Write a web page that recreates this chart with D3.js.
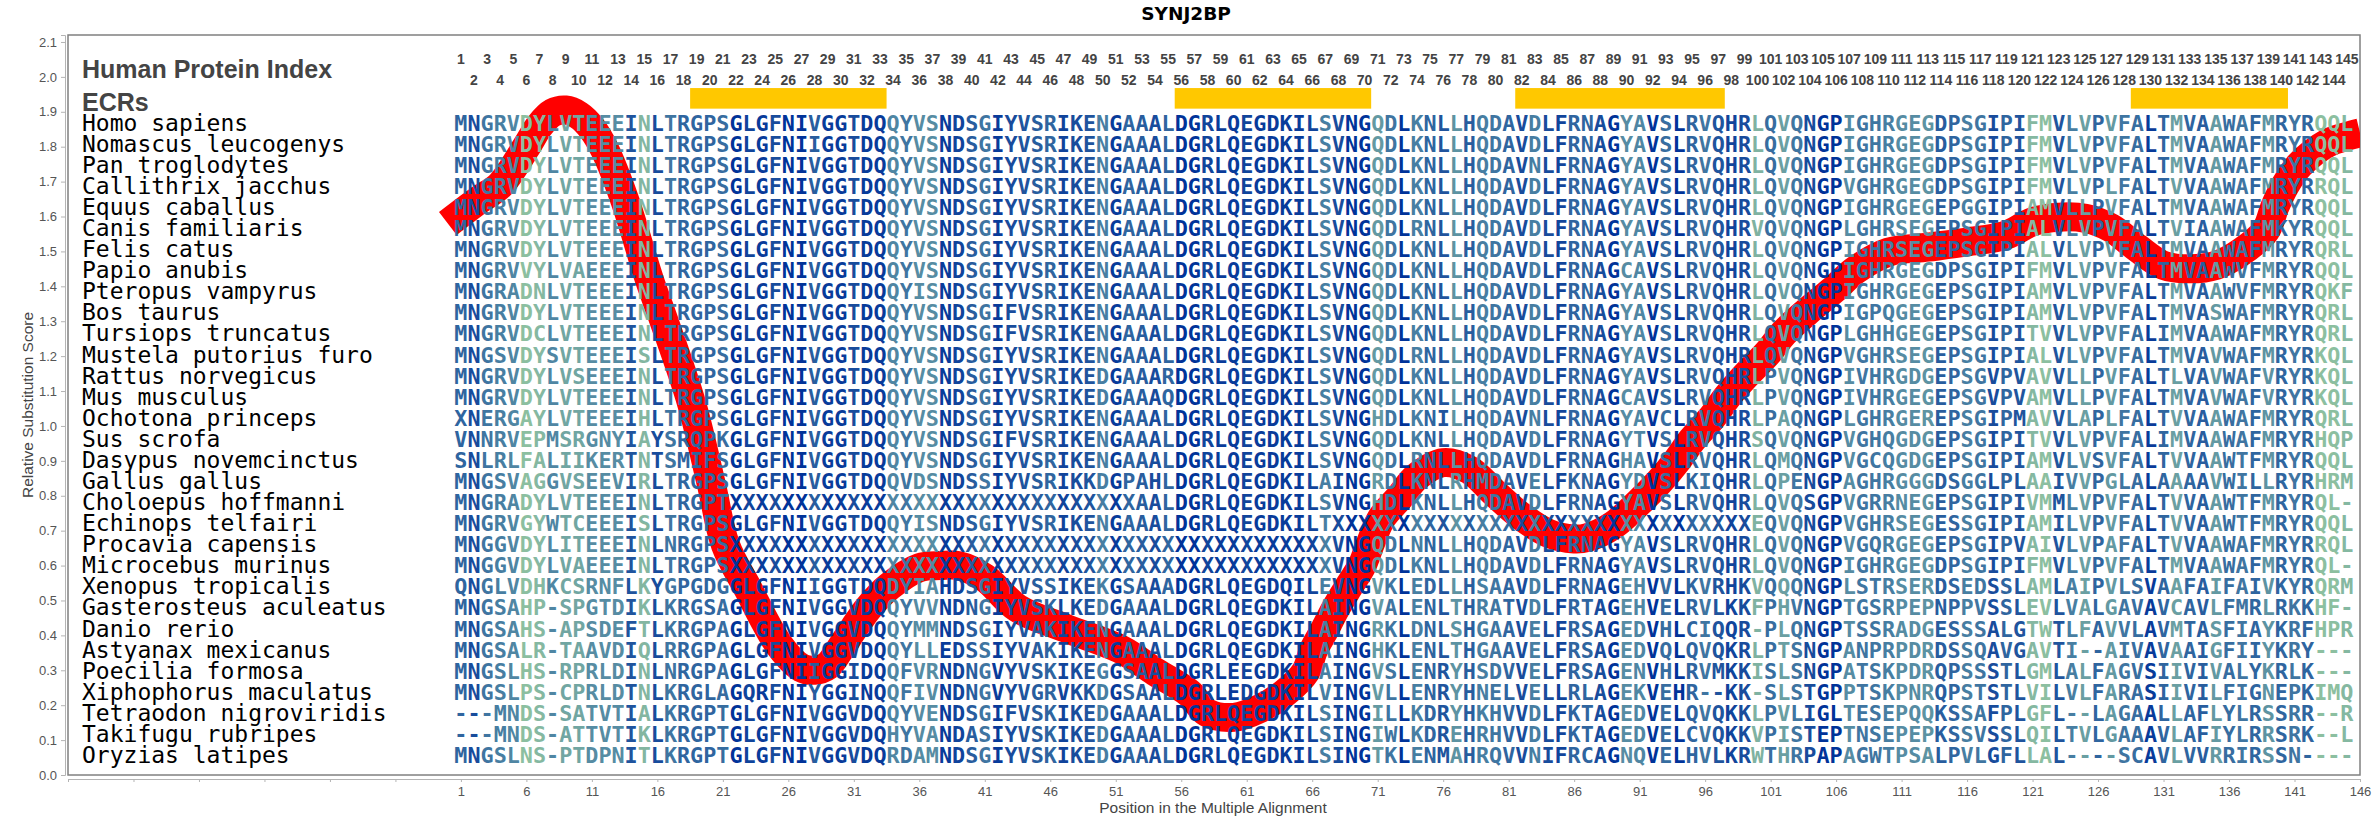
<!DOCTYPE html>
<html>
<head>
<meta charset="utf-8">
<script src="https://cdn.jsdelivr.net/npm/d3@7"></script>
<style>
body { margin: 0; background: #fff; }
text { white-space: pre; }
</style>
</head>
<body>
<div id="chart"></div>
<script>
"use strict";

var species = ["Homo sapiens","Nomascus leucogenys","Pan troglodytes","Callithrix jacchus","Equus caballus","Canis familiaris","Felis catus","Papio anubis","Pteropus vampyrus","Bos taurus","Tursiops truncatus","Mustela putorius furo","Rattus norvegicus","Mus musculus","Ochotona princeps","Sus scrofa","Dasypus novemcinctus","Gallus gallus","Choloepus hoffmanni","Echinops telfairi","Procavia capensis","Microcebus murinus","Xenopus tropicalis","Gasterosteus aculeatus","Danio rerio","Astyanax mexicanus","Poecilia formosa","Xiphophorus maculatus","Tetraodon nigroviridis","Takifugu rubripes","Oryzias latipes"];

// alignment positions 1-27
var seqHead = [
  "MNGRVDYLVTEEEINLTRGPSGLGFNI","MNGRVDYLVTEEEINLTRGPSGLGFNI","MNGRVDYLVTEEEINLTRGPSGLGFNI","MNGRVDYLVTEEEINLTRGPSGLGFNI",
  "MNGRVDYLVTEEEINLTRGPSGLGFNI","MNGRVDYLVTEEEINLTRGPSGLGFNI","MNGRVDYLVTEEEINLTRGPSGLGFNI","MNGRVVYLVAEEEINLTRGPSGLGFNI",
  "MNGRADNLVTEEEINLTRGPSGLGFNI","MNGRVDYLVTEEEINLTRGPSGLGFNI","MNGRVDCLVTEEEINLTRGPSGLGFNI","MNGSVDYSVTEEEISLTRGPSGLGFNI",
  "MNGRVDYLVSEEEINLTRGPSGLGFNI","MNGRVDYLVTEEEINLTRGPSGLGFNI","XNERGAYLVTEEEIHLTRGPSGLGFNI","VNNRVEPMSRGNYIAYSRQPKGLGFNI",
  "SNLRLFALIIKERTNTSMIFSGLGFNI","MNGSVAGGVSEEVIRLTRGPSGLGFNI","MNGRADYLVTEEEINLTRGPTXXXXXX","MNGRVGYWTCEEEISLTRGPSGLGFNI",
  "MNGGVDYLITEEEINLNRGPSXXXXXX","MNGGVDYLVAEEEINLTRGPSXXXXXX","QNGLVDHKCSRNFLKYGPGDGGLGFNI","MNGSAHP-SPGTDIKLKRGSAGLGFNI",
  "MNGSAHS-APSDEFTLKRGPAGLGFNI","MNGSALR-TAAVDIQLRRGPAGLGFNI","MNGSLHS-RPRLDINLNRGPAGLGFNI","MNGSLPS-CPRLDTNLKRGLAGQRFNI",
  "---MNDS-SATVTIALKRGPTGLGFNI","---MNDS-ATTVTIKLKRGPTGLGFNI","MNGSLNS-PTDPNITLKRGPTGLGFNI"
];

// alignment positions 28-86
var seqMiddle = [
  "VGGTDQQYVSNDSGIYVSRIKENGAAALDGRLQEGDKILSVNGQDLKNLLHQDAVDLFR",
  "IGGTDQQYVSNDSGIYVSRIKENGAAALDGRLQEGDKILSVNGQDLKNLLHQDAVDLFR",
  "VGGTDQQYVSNDSGIYVSRIKENGAAALDGRLQEGDKILSVNGQDLKNLLHQDAVNLFR",
  "VGGTDQQYVSNDSGIYVSRIKENGAAALDGRLQEGDKILSVNGQDLKNLLHQDAVDLFR",
  "VGGTDQQYVSNDSGIYVSRIKENGAAALDGRLQEGDKILSVNGQDLKNLLHQDAVDLFR",
  "VGGTDQQYVSNDSGIYVSRIKENGAAALDGRLQEGDKILSVNGQDLRNLLHQDAVDLFR",
  "VGGTDQQYVSNDSGIYVSRIKENGAAALDGRLQEGDKILSVNGQDLKNLLHQDAVDLFR",
  "VGGTDQQYVSNDSGIYVSRIKENGAAALDGRLQEGDKILSVNGQDLKNLLHQDAVDLFR",
  "VGGTDQQYISNDSGIYVSRIKENGAAALDGRLQEGDKILSVNGQDLKNLLHQDAVDLFR",
  "VGGTDQQYVSNDSGIFVSRIKENGAAALDGRLQEGDKILSVNGQDLKNLLHQDAVDLFR",
  "VGGTDQQYVSNDSGIFVSRIKENGAAALDGRLQEGDKILSVNGQDLKNLLHQDAVDLFR",
  "VGGTDQQYVSNDSGIYVSRIKENGAAALDGRLQEGDKILSVNGQDLRNLLHQDAVDLFR",
  "VGGTDQQYVSNDSGIYVSRIKEDGAAARDGRLQEGDKILSVNGQDLKNLLHQDAVDLFR",
  "VGGTDQQYVSNDSGIYVSRIKEDGAAAQDGRLQEGDKILSVNGQDLKNLLHQDAVDLFR",
  "VGGTDQQYVSNDSGIYVSRIKENGAAALDGRLQEGDKILSVNGHDLKNILHQDAVNLFR",
  "VGGTDQQYVSNDSGIFVSRIKENGAAALDGRLQEGDKILSVNGQDLKNLLHQDAVDLFR",
  "VGGTDQQYVSNDSGIYVSRIKENGAAALDGRLQEGDKILSVNGQDLRNLLHQDAVDLFR",
  "VGGTDQQVDSNDSSIYVSRIKKDGPAHLDGRLQEGDKILAINGRDLKNLRHMDAVELFK",
  "XXXXXXXXXXXXXXXXXXXXXXXXXAALDGRLQEGDKILSVNGHDLKNLLHQDAVDLFR",
  "VGGTDQQYISNDSGIYVSRIKENGAAALDGRLQEGDKILTXXXXXXXXXXXXXXXXXXX",
  "XXXXXXXXXXXXXXXXXXXXXXXXXXXXXXXXXXXXXXXXVNGQDLNNLLHQDAVDLFR",
  "XXXXXXXXXXXXXXXXXXXXXXXXXXXXXXXXXXXXXXXXVNGQDLKNLLHQDAVDLFR",
  "IGGTDQDYIAHDSGIYVSSIKEKGSAAADGRLQEGDQILEVNGVKLEDLLHSAAVDLFR",
  "VGGVDQQYVVNDNGIYVSKLKEDGAAALDGRLQEGDKILAINGVALENLTHRATVDLFR",
  "VGGVDQQYMMNDSGIYVAKIKENGAAALDGRLQEGDKILAINGRKLDNLSHGAAVELFR",
  "VGGVDQQYLLEDSSIYVAKIKENGAAALDGRLQEGDKILAINGHKLENLTHGAAVELFR",
  "IGGIDQQFVRNDNGVYVSKIKEGGSAALDGRLEEGDKILAINGVSLENRYHSDVVELFR",
  "YGGINQQFIVNDNGVYVGRVKKDGSAALDGRLEDGDKILVINGVLLENRYHNELVELLR",
  "VGGVDQQYVENDSGIFVSKIKEDGAAALDGRLQEGDKILSINGILLKDRYHKHVVDLFK",
  "VGGVDQHYVANDASIYVSKIKEDGAAALDGRLQEGDKILSINGIWLKDREHRHVVDLFK",
  "VGGVDQRDAMNDSGIYVSKIKEDGAAALDGRLQEGDKILSINGTKLENMAHRQVVNIFR"
];

// alignment positions 87-145
var seqTail = [
  "NAGYAVSLRVQHRLQVQNGPIGHRGEGDPSGIPIFMVLVPVFALTMVAAWAFMRYRQQL",
  "NAGYAVSLRVQHRLQVQNGPIGHRGEGDPSGIPIFMVLVPVFALTMVAAWAFMRYRQQL",
  "NAGYAVSLRVQHRLQVQNGPIGHRGEGDPSGIPIFMVLVPVFALTMVAAWAFMRYRQQL",
  "NAGYAVSLRVQHRLQVQNGPVGHRGEGDPSGIPIFMVLVPLFALTVVAAWAFMRYRRQL",
  "NAGYAVSLRVQHRLQVQNGPIGHRGEGEPGGIPIAMVLLPVFALTMVAAWAFMRYRQQL",
  "NAGYAVSLRVQHRVQVQNGPLGHRSEGEPSGIPIALVLVPVFALTVIAAWAFMKYRQQL",
  "NAGYAVSLRVQHRLQVQNGPIGHRSEGEPSGIPIALVLVPVFALTMVAAWAFMRYRQRL",
  "NAGCAVSLRVQHRLQVQNGPIGHRGEGDPSGIPIFMVLVPVFALTMVAAWVFMRYRQQL",
  "NAGYAVSLRVQHRLQVQNGPIGHRGEGEPSGIPIAMVLVPVFALTMVAAWVFMRYRQKF",
  "NAGYAVSLRVQHRLQVQNGPIGPQGEGEPSGIPIAMVLVPVFALTMVASWAFMRYRQRL",
  "NAGYAVSLRVQHRLQVQNGPLGHHGEGEPSGIPITVVLVPVFALIMVAAWAFMRYRQRL",
  "NAGYAVSLRVQHRLQVQNGPVGHRSEGEPSGIPIALVLVPVFALTMVAVWAFMRYRKQL",
  "NAGYAVSLRVQHRLPVQNGPIVHRGDGEPSGVPVAVVLLPVFALTLVAVWAFVRYRKQL",
  "NAGCAVSLRVQHRLPVQNGPIVHRGEGEPSGVPVAMVLLPVFALTMVAVWAFVRYRKQL",
  "NAGYAVCLRVQHRLPAQNGPLGHRGEREPSGIPMAVVLAPLFALTVVAAWAFMRYRQRL",
  "NAGYTVSLRVQHRSQVQNGPVGHQGDGEPSGIPITVVLVPVFALIMVAAWAFMRYRHQP",
  "NAGHAVSLRVQHRLQMQNGPVGCQGDGEPSGIPIAMVLVSVFALTVVAAWTFMRYRQQL",
  "NAGYDVSLKIQHRLQPENGPAGHRGGGDSGGLPLAAIVVPGLALAAAAVWILLRYRHRM",
  "NAGYAVSLRVQHRLQVQSGPVGRRNEGEPSGIPIVMMLVPVFALTVVAAWTFMRYRQL-",
  "XXXXXXXXXXXXXEQVQNGPVGHRSEGESSGIPIAMILVPVFALTVVAAWTFMRYRQQL",
  "NAGYAVSLRVQHRLQVQNGPVGQRGEGEPSGIPVAIVLVPAFALTVVAAWAFMRYRRQL",
  "NAGYAVSLRVQHRLQVQNGPIGHRGEGDPSGIPIFMVLVPVFALTMVAAWAFMRYRQL-",
  "NAGEHVVLKVRHKVQQQNGPLSTRSERDSEDSSLAMLAIPVLSVAAFAIFAIVKYRQRM",
  "TAGEHVELRVLKKFPHVNGPTGSRPEPNPPVSSLEVLVALGAVAVCAVLFMRLRKKHF-",
  "SAGEDVHLCIQQR-PLQNGPTSSRADGESSSALGTWTLFAVVLAVMTASFIAYKRFHPR",
  "SAGEDVQLQVQKRLPTSNGPANPRPDRDSSQAVGAVTI--AIVAVAAIGFIIYKRY---",
  "SAGENVHLRVMKKISLSNGPATSKPDRQPSSSTLGMLALFAGVSIIVIVALYKRLK---",
  "LAGEKVEHR--KK-SLSTGPPTSKPNRQPSTSTLVILVLFARASIIVILFIGNEPKIMQ",
  "TAGEDVELQVQKKLPVLIGLTESEPQQKSSAFPLGFL--LAGAALLAFLYLRSSRR--R",
  "TAGEDVELCVQKKVPISTEPTNSEPEPKSSVSSLQILTVLGAAAVLAFIYLRRSRK--L",
  "CAGNQVELHVLKRWTHRPAPAGWTPSALPVLGFLLAL----SCAVLVVRRIRSSN----"
];

// conservation of each alignment column, 0 = pale green, 1 = dark blue
var columnConservation = [
  .7,.85,.6,.55,.5,.05,.1,.5,.25,.25,.45,.45,.45,.8,.12,.85,.6,.7,.7,.7,.65,1,.9,.95,.85,1,1,.75,.95,.95,
  .85,.95,.95,.5,.6,.45,.45,.95,.9,.75,.6,.95,.85,.8,.75,.7,.9,.85,.8,.55,.95,.7,.75,.85,.7,1,1,.9,.95,.95,
  .9,.95,.95,.95,.95,.9,.55,.85,1,1,.35,.6,1,.55,.7,.8,.4,.75,.55,.6,.7,.85,.55,.85,.9,.7,.7,.85,1,.45,
  .5,1,.65,1,.7,.6,.8,.9,.85,.15,.65,.3,.6,.85,1,1,.45,.6,.6,.55,.45,.45,.4,.75,.7,.55,.6,.85,.7,.8,
  .1,.05,.8,.55,.3,.7,.35,.6,.65,.95,.7,.3,.7,.75,.35,.65,.6,.7,.4,.7,.6,.7,.05,.05,.1
];

var ecrStarts = [19, 56, 82, 129];
var ecrEnds = [33, 70, 97, 140];

// red line at these alignment positions
var scorePositions = [0,2.4,4,6,7,8,9,10,11,12,13.5,15.4,16.3,18.6,20.1,21.2,22.9,25.3,27,28,29,29.9,31,32.1,33.7,36,37.6,39,41,43.5,47.2,51.5,54,56.6,58,60,62,63.9,65.5,66.1,67,67.8,68.8,69.8,70.4,71.3,72.7,74,76,78,80,82,84,86,87,89,90.9,92.5,93.9,95,96.5,97.7,99,100.8,102,103.8,105.8,107.5,110,113,116,119,121,123,125,127,129,131,133,135,137,138.8,139.5,140.3,141.4,143.5,145,146];
var scoreValues = [1.58,1.648,1.69,1.80,1.86,1.897,1.905,1.89,1.853,1.79,1.648,1.418,1.323,1.066,.836,.659,.535,.372,.307,.30,.313,.358,.42,.478,.54,.594,.60,.60,.565,.478,.42,.358,.296,.235,.178,.165,.19,.235,.296,.358,.42,.478,.54,.60,.659,.736,.797,.855,.895,.874,.805,.74,.693,.676,.68,.716,.779,.84,.903,.96,1.023,1.084,1.14,1.21,1.266,1.328,1.39,1.447,1.498,1.512,1.527,1.547,1.585,1.598,1.595,1.567,1.51,1.46,1.45,1.46,1.50,1.56,1.628,1.69,1.748,1.81,1.83,1.84];

var yTicks = d3.range(0, 22).map(function(d) { return d / 10; });
var xTicks = d3.range(-29, 147, 5);

var width = 2372, height = 825;
var plot = { l: 68, r: 2360, t: 35, b: 775 };

var svg = d3.select("#chart").append("svg")
  .attr("width", width)
  .attr("height", height)
  .style("display", "block");

var x = d3.scaleLinear().domain([-29, 146]).range([plot.l, plot.r]);
var y = d3.scaleLinear().domain([0, 2.12]).range([plot.b, plot.t]);
var rowY = d3.scalePoint().domain(species).range([130.7, 763]);
var letterColor = d3.scaleLinear().domain([0, .5, 1]).range(["#93c5a0", "#4f86a3", "#003399"]);

svg.append("text")
  .attr("x", 1186).attr("y", 20)
  .attr("text-anchor", "middle")
  .attr("style", "font: bold 18.5px 'DejaVu Sans'; fill: #000;")
  .text("SYNJ2BP");

// axes sit a little outside the plot frame
var yAxis = svg.append("g")
  .attr("transform", "translate(" + (plot.l - 3) + ",0)")
  .call(d3.axisLeft(y).tickValues(yTicks).tickSize(4).tickPadding(4).tickFormat(d3.format(".1f")));
var xAxis = svg.append("g")
  .attr("transform", "translate(0," + (plot.b + 4) + ")")
  .call(d3.axisBottom(x).tickValues(xTicks).tickSize(3).tickPadding(5)
    .tickFormat(function(d) { return d > 0 ? d : ""; }));
[yAxis, xAxis].forEach(function(a) {
  a.selectAll("path, line").attr("stroke", "#b4b4b4");
  a.selectAll("text").attr("style", "font: 13px 'Liberation Sans'; fill: #555;");
});

svg.append("rect")
  .attr("x", plot.l).attr("y", plot.t)
  .attr("width", plot.r - plot.l).attr("height", plot.b - plot.t)
  .attr("fill", "#fff")
  .attr("stroke", "#808080")
  .attr("stroke-width", 1.5);

svg.append("clipPath").attr("id", "plotClip").append("rect")
  .attr("x", plot.l).attr("y", plot.t)
  .attr("width", plot.r - plot.l).attr("height", plot.b - plot.t);

svg.append("text")
  .attr("x", 1213).attr("y", 813)
  .attr("text-anchor", "middle")
  .attr("style", "font: 15.5px 'Liberation Sans'; fill: #444;")
  .text("Position in the Multiple Alignment");
svg.append("text")
  .attr("transform", "translate(33,405) rotate(-90)")
  .attr("text-anchor", "middle")
  .attr("style", "font: 15.5px 'Liberation Sans'; fill: #444;")
  .text("Relative Substitution Score");

var line = d3.line()
  .x(function(d) { return x(d); })
  .y(function(d, i) { return y(scoreValues[i]); })
  .curve(d3.curveCatmullRom);
svg.append("path")
  .attr("d", line(scorePositions))
  .attr("clip-path", "url(#plotClip)")
  .attr("fill", "none")
  .attr("stroke", "#ff0000")
  .attr("stroke-width", 29)
  .attr("stroke-linejoin", "round");

svg.append("text")
  .attr("x", 82).attr("y", 78)
  .attr("style", "font: bold 25px 'Liberation Sans'; fill: #444;")
  .text("Human Protein Index");
svg.append("text")
  .attr("x", 82).attr("y", 110.7)
  .attr("style", "font: bold 25px 'Liberation Sans'; fill: #444;")
  .text("ECRs");

// position numbers, odd ones on the upper line
svg.selectAll(".posNumber")
  .data(d3.range(1, 146))
  .enter().append("text")
  .classed("posNumber", true)
  .attr("x", function(d) { return x(d); })
  .attr("y", function(d) { return d % 2 ? 64 : 85; })
  .attr("text-anchor", "middle")
  .attr("style", "font: bold 14px 'Liberation Sans'; fill: #444;")
  .text(function(d) { return d; });

svg.selectAll(".ecr")
  .data(ecrStarts)
  .enter().append("rect")
  .classed("ecr", true)
  .attr("x", function(d) { return x(d - .5); })
  .attr("y", y(1.968))
  .attr("width", function(d, i) { return x(ecrEnds[i] + .5) - x(d - .5); })
  .attr("height", y(1.909) - y(1.968))
  .attr("fill", "#ffc800");

svg.selectAll(".species")
  .data(species)
  .enter().append("text")
  .classed("species", true)
  .attr("x", 82)
  .attr("y", function(d) { return rowY(d); })
  .attr("style", "font: 23px 'DejaVu Sans Mono'; fill: #000;")
  .text(function(d) { return d; });

var rows = svg.selectAll(".seqRow")
  .data(species)
  .enter().append("g")
  .classed("seqRow", true)
  .attr("transform", function(d) { return "translate(0," + rowY(d) + ")"; })
  .attr("style", "font: bold 21.76px 'DejaVu Sans Mono';");

rows.selectAll("text")
  .data(function(d, i) { return (seqHead[i] + seqMiddle[i] + seqTail[i]).split(""); })
  .enter().append("text")
  .attr("x", function(d, i) { return x(i + 1); })
  .attr("text-anchor", "middle")
  .attr("fill", function(d, i) { return letterColor(columnConservation[i]); })
  .text(function(d) { return d; });
</script>
</body>
</html>
